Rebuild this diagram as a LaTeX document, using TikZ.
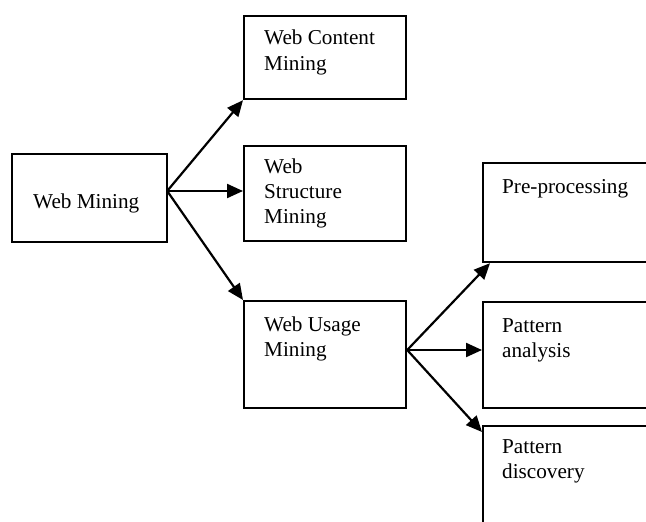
\documentclass[tikz,border=0pt]{standalone}
\usepackage{fontspec}
\setmainfont{Liberation Serif}
\usetikzlibrary{arrows.meta,calc}
\begin{document}
\begin{tikzpicture}[x=1pt,y=-1pt,
  box/.style={draw, line width=2.2pt, inner sep=0pt, anchor=north west},
  lbl/.style={anchor=base west, inner sep=0pt, align=left, font=\fontsize{21.2}{25}\selectfont},
  arr/.style={line width=2.2pt, -{Triangle[length=16pt,width=14pt]}}]
\useasboundingbox (0,0) rectangle (646,522);
\clip (0,0) rectangle (646,522);
\fill[white] (0,0) rectangle (646,522);
% boxes
\node[box, minimum width=155pt, minimum height=88pt] (wm) at (11,153) {};
\node[box, minimum width=162pt, minimum height=83pt] (wcm) at (243,15) {};
\node[box, minimum width=162pt, minimum height=95pt] (wsm) at (243,145) {};
\node[box, minimum width=162pt, minimum height=107pt] (wum) at (243,300) {};
\node[box, minimum width=200pt, minimum height=99pt] (pre) at (482,162) {};
\node[box, minimum width=200pt, minimum height=106pt] (pa) at (482,301) {};
\node[box, minimum width=200pt, minimum height=130pt] (pd) at (482,425) {};
% labels (anchor = baseline of the last line)
\node[lbl] (twm) at ($(wm.north west)+(22,55)$) {Web Mining};
\node[lbl] (twcm) at ($(wcm.north west)+(21,55)$) {Web Content\\Mining};
\node[lbl] (twsm) at ($(wsm.north west)+(21,78)$) {Web\\Structure\\Mining};
\node[lbl] (twum) at ($(wum.north west)+(21,56)$) {Web Usage\\Mining};
\node[lbl] (tpre) at ($(pre.north west)+(20,31)$) {Pre-processing};
\node[lbl] (tpa) at ($(pa.north west)+(20,56)$) {Pattern\\analysis};
\node[lbl] (tpd) at ($(pd.north west)+(20,53)$) {Pattern\\discovery};
% connectors
\coordinate (s1) at ($(wm.north east)+(-1,38)$);
\coordinate (s2) at ($(wum.north east)+(0,50)$);
\draw[arr] (s1) -- (wcm.south west);
\draw[arr] (s1) -- (s1 -| wsm.west);
\draw[arr] (s1) -- (wum.north west);
\draw[arr] (s2) -- ($(pre.south west)+(8,0)$);
\draw[arr] (s2) -- (s2 -| pa.west);
\draw[arr] (s2) -- ($(pd.north west)+(0,7)$);
\end{tikzpicture}
\end{document}
